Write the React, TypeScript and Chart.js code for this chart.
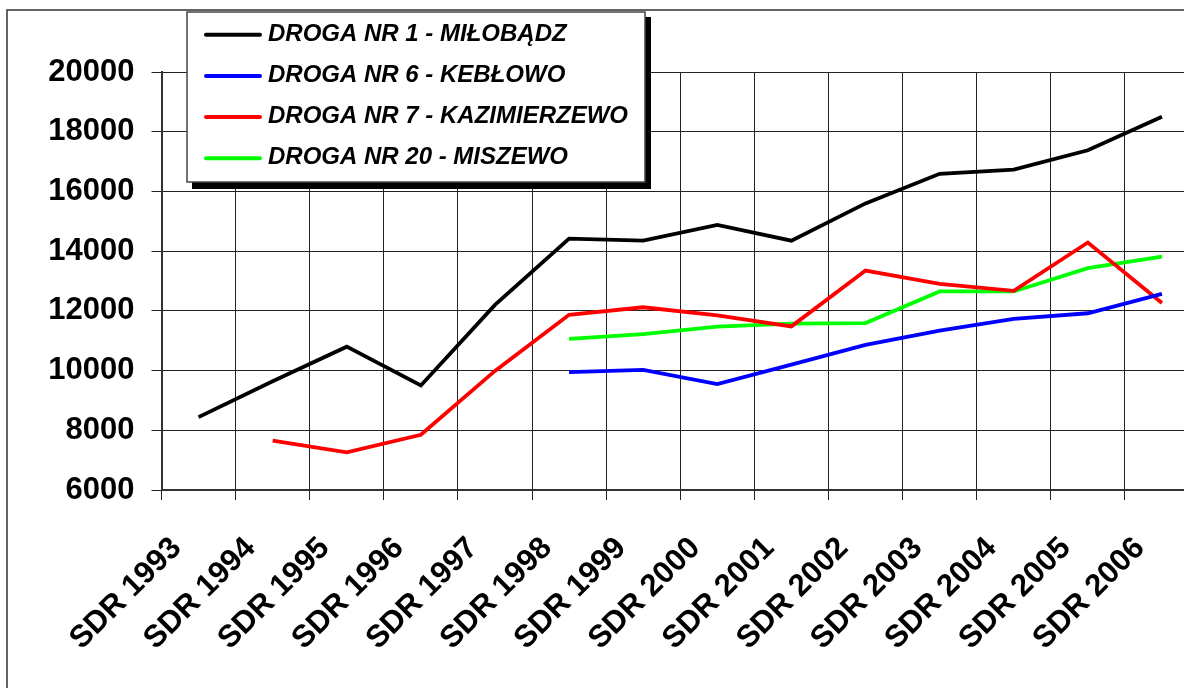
import React, { useEffect, useRef } from 'react';
import { Chart, registerables } from 'chart.js';

Chart.register(...registerables);

const categories = [
  'SDR 1993', 'SDR 1994', 'SDR 1995', 'SDR 1996', 'SDR 1997', 'SDR 1998', 'SDR 1999',
  'SDR 2000', 'SDR 2001', 'SDR 2002', 'SDR 2003', 'SDR 2004', 'SDR 2005', 'SDR 2006',
];

const drogaNr1 = [8440, 9640, 10800, 9500, 12200, 14420, 14350, 14880, 14350, 15600, 16590, 16730, 17380, 18500];
const drogaNr6 = [null, null, null, null, null, 9950, 10020, 9550, 10200, 10860, 11340, 11730, 11920, 12570];
const drogaNr7 = [null, 7650, 7260, 7850, 9990, 11870, 12120, 11850, 11480, 13350, 12900, 12670, 14290, 12260];
const drogaNr20 = [null, null, null, null, null, 11060, 11220, 11470, 11570, 11590, 12650, 12650, 13430, 13820];

const seriesLabels = [
  'DROGA NR 1 - MIŁOBĄDZ',
  'DROGA NR 6 - KEBŁOWO',
  'DROGA NR 7 - KAZIMIERZEWO',
  'DROGA NR 20 - MISZEWO',
];
const seriesColors = ['#000000', '#0000ff', '#ff0000', '#00ff00'];

const yTicks = [6000, 8000, 10000, 12000, 14000, 16000, 18000, 20000];

const FONT = '"Liberation Sans", Arial, Helvetica, sans-serif';

const framePlugin = {
  id: 'frame',
  beforeDraw(chart: any) {
    const ctx = chart.ctx;
    ctx.save();
    ctx.fillStyle = '#ffffff';
    ctx.fillRect(0, 0, chart.width, chart.height);
    ctx.strokeStyle = '#333333';
    ctx.lineWidth = 1.5;
    ctx.strokeRect(7, 10, 2000, 2000);
    ctx.restore();
  },
};

const boxLegendPlugin = {
  id: 'boxLegend',
  afterDraw(chart: any) {
    const ctx = chart.ctx;
    const x = 187, y = 12, w = 458, h = 170;
    ctx.save();
    ctx.fillStyle = '#000000';
    ctx.fillRect(x + 5, y + 5, w + 1, h + 2);
    ctx.fillStyle = '#ffffff';
    ctx.fillRect(x, y, w, h);
    ctx.strokeStyle = '#444444';
    ctx.lineWidth = 1.5;
    ctx.strokeRect(x, y, w, h);
    ctx.font = `italic bold 24px ${FONT}`;
    ctx.textBaseline = 'alphabetic';
    ctx.textAlign = 'left';
    chart.data.datasets.forEach((ds: any, i: number) => {
      const ly = 34.7 + i * 41.2;
      ctx.strokeStyle = ds.borderColor;
      ctx.lineWidth = 4;
      ctx.lineCap = 'round';
      ctx.beginPath();
      ctx.moveTo(206, ly);
      ctx.lineTo(260, ly);
      ctx.stroke();
      ctx.fillStyle = '#000000';
      ctx.fillText(ds.label, 268, ly + 6);
    });
    ctx.restore();
  },
};

export default function App() {
  const canvasRef = useRef<HTMLCanvasElement | null>(null);

  useEffect(() => {
    if (!canvasRef.current) return;
    const seriesData = [drogaNr1, drogaNr6, drogaNr7, drogaNr20];
    const chart = new Chart(canvasRef.current, {
      type: 'line',
      data: {
        labels: categories,
        datasets: seriesData.map((d, i) => ({
          label: seriesLabels[i],
          data: d,
          borderColor: seriesColors[i],
          backgroundColor: seriesColors[i],
          borderWidth: 3.8,
          pointRadius: 0,
          tension: 0,
          fill: false,
          spanGaps: false,
        })),
      },
      options: {
        responsive: false,
        devicePixelRatio: 1,
        animation: false,
        layout: { padding: { left: 0, top: 72, right: 41, bottom: 0 } },
        plugins: {
          legend: { display: false },
          tooltip: { enabled: false },
        },
        scales: {
          x: {
            type: 'category',
            offset: true,
            grid: { offset: true, color: '#222222', lineWidth: 1, tickLength: 10, drawTicks: true },
            border: { color: '#333333', width: 2 },
            ticks: {
              autoSkip: false,
              maxRotation: 45,
              minRotation: 45,
              labelOffset: -22,
              padding: 30,
              color: '#000000',
              font: { family: FONT, size: 31, weight: 'bold' },
            },
            afterFit: (s: any) => { s.height = 210; },
          },
          y: {
            min: 6000,
            max: 20000,
            afterBuildTicks: (s: any) => { s.ticks = yTicks.map((v) => ({ value: v })); },
            grid: { color: '#222222', lineWidth: 1, tickLength: 10 },
            border: { color: '#333333', width: 2 },
            ticks: {
              padding: 17,
              color: '#000000',
              font: { family: FONT, size: 31, weight: 'bold' },
              callback: (v: any) => String(v),
            },
            afterFit: (s: any) => { s.width = 161.5; },
          },
        },
      },
      plugins: [framePlugin, boxLegendPlugin],
    } as any);
    return () => chart.destroy();
  }, []);

  return (
    <div style={{ position: 'fixed', left: 0, top: 0, width: 1184, height: 688, overflow: 'hidden', background: '#fff' }}>
      <canvas ref={canvasRef} width={1240} height={700} style={{ display: 'block', width: 1240, height: 700 }} />
    </div>
  );
}
